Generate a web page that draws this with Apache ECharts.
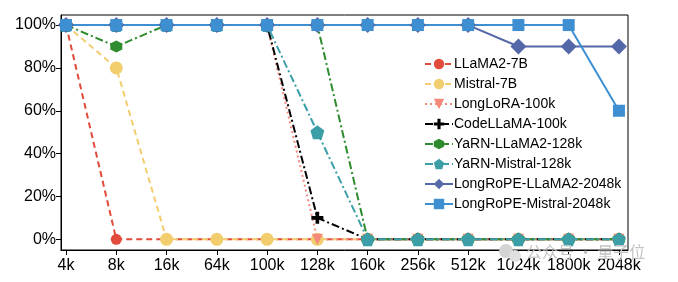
<!DOCTYPE html>
<html><head><meta charset="utf-8">
<script src="https://cdn.jsdelivr.net/npm/echarts@6/dist/echarts.min.js"></script>
<style>html,body{margin:0;padding:0;background:#fff}#c{width:678px;height:282px}</style>
</head><body><div id="c"></div>
<script>
const categories = ['4k','8k','16k','64k','100k','128k','160k','256k','512k','1024k','1800k','2048k'];
const yTicks = [0,20,40,60,80,100];
const llama2_7b      = [100,0,0,0,0,0,0,0,0,0,0,0];
const mistral_7b     = [100,80,0,0,0,0,0,0,0,0,0,0];
const longlora_100k  = [100,100,100,100,100,0,0,0,0,0,0,0];
const codellama_100k = [100,100,100,100,100,10,0,0,0,0,0,0];
const yarn_llama2    = [100,90,100,100,100,100,0,0,0,0,0,0];
const yarn_mistral   = [100,100,100,100,100,50,0,0,0,0,0,0];
const longrope_llama2  = [100,100,100,100,100,100,100,100,100,90,90,90];
const longrope_mistral = [100,100,100,100,100,100,100,100,100,100,100,60];

const HEX = 'path://M0,-1 L0.866,-0.5 L0.866,0.5 L0,1 L-0.866,0.5 L-0.866,-0.5 Z';
const PENT = 'path://M0,-1 L0.951,-0.309 L0.588,0.809 L-0.588,0.809 L-0.951,-0.309 Z';
const PLUS = 'path://M-0.3,-1 L0.3,-1 L0.3,-0.3 L1,-0.3 L1,0.3 L0.3,0.3 L0.3,1 L-0.3,1 L-0.3,0.3 L-1,0.3 L-1,-0.3 L-0.3,-0.3 Z';
const DIAM = 'path://M0,-1 L0.6,0 L0,1 L-0.6,0 Z';

function mk(name, vals, color, type, symbol, size, rot) {
  return {
    name, type: 'line',
    data: vals.map((v, i) => [i, v]),
    symbol, symbolSize: size, symbolRotate: rot || 0,
    lineStyle: { color, width: 2, type },
    itemStyle: { color },
    emphasis: { disabled: true },
    animation: false
  };
}
const series = [
  mk('LLaMA2-7B', llama2_7b, '#e24a3b', [6,4], 'circle', 11),
  mk('Mistral-7B', mistral_7b, '#f2cd6e', [6,4], 'circle', 13),
  mk('LongLoRA-100k', longlora_100k, '#f4897b', [2,3], 'triangle', 11, 180),
  mk('CodeLLaMA-100k', codellama_100k, '#000000', [8,3,2,3], PLUS, 12),
  mk('YaRN-LLaMA2-128k', yarn_llama2, '#2e8b2e', [8,3,2,3], HEX, 12),
  mk('YaRN-Mistral-128k', yarn_mistral, '#3c9fa7', [8,3,2,3], PENT, 14),
  mk('LongRoPE-LLaMA2-2048k', longrope_llama2, '#5467a8', 'solid', DIAM, 16),
  mk('LongRoPE-Mistral-2048k', longrope_mistral, '#3d8fd1', 'solid', 'rect', 12)
];

const chart = echarts.init(document.getElementById('c'), null, { renderer: 'canvas' });
const axisFont = { fontFamily: 'Liberation Sans, Arial, sans-serif', fontSize: 16, color: '#000' };
chart.setOption({
  animation: false,
  grid: { left: 61, right: 50, top: 15, bottom: 32, show: true, borderColor: '#000', borderWidth: 1 },
  legend: {
    orient: 'vertical', left: 419, top: 52,
    itemWidth: 28, itemHeight: 13, itemGap: 6,
    textStyle: { fontFamily: 'Liberation Sans, Arial, sans-serif', fontSize: 14, color: '#000', padding: [0,0,0,-4] },
    data: series.map(s => s.name)
  },
  xAxis: {
    type: 'value', min: -0.1, max: 11.18,
    axisLine: { show: true, onZero: false, lineStyle: { color: '#000' } },
    splitLine: { show: false },
    axisTick: { show: true, length: 5, lineStyle: { color: '#000' }, customValues: categories.map((c, i) => i) },
    axisLabel: Object.assign({ margin: 8, customValues: categories.map((c, i) => i), formatter: v => categories[Math.round(v)] }, axisFont)
  },
  yAxis: {
    type: 'value', min: -5, max: 104.7,
    axisLine: { show: true, onZero: false, lineStyle: { color: '#000' } },
    splitLine: { show: false },
    axisTick: { show: true, length: 5, lineStyle: { color: '#000' }, customValues: yTicks },
    axisLabel: Object.assign({ margin: 5, customValues: yTicks, formatter: v => v + '%' }, axisFont)
  },
  graphic: [
    { type: 'circle', shape: { cx: 506, cy: 251, r: 7 }, style: { fill: '#d4d4d4' }, z: 100 },
    { type: 'circle', shape: { cx: 515, cy: 256, r: 6 }, style: { fill: '#e0e0e0' }, z: 100 },
    { type: 'text', left: 526, top: 244, z: 100,
      style: { text: '公众号 · 量子位', fontFamily: 'Noto Sans CJK SC', fontSize: 16, fill: '#c4c4c4' } }
  ],
  series
});
</script></body></html>
